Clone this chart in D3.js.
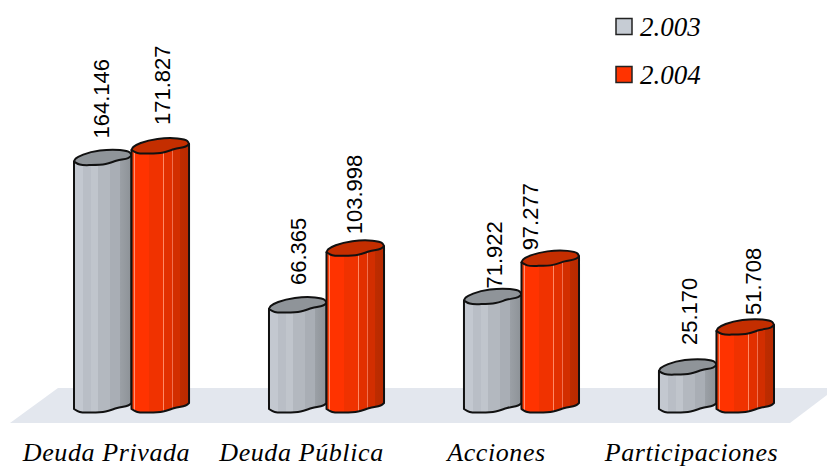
<!DOCTYPE html>
<html>
<head>
<meta charset="utf-8">
<script src="https://cdn.jsdelivr.net/npm/d3@7"></script>
<style>
html, body { margin: 0; padding: 0; background: #fff; }
svg { display: block; }
</style>
</head>
<body>
<div id="chart"></div>
<script>
// Data
var categories = ['Deuda Privada', 'Deuda Pública', 'Acciones', 'Participaciones'];
var years = ['2.003', '2.004'];
var values2003 = [164146, 66365, 71922, 25170];
var values2004 = [171827, 103998, 97277, 51708];
var valueLabels2003 = ['164.146', '66.365', '71.922', '25.170'];
var valueLabels2004 = ['171.827', '103.998', '97.277', '51.708'];

// Hand placed value labels, the original has them nudged around
var labelGap = [[23, 24, 12, 26], [25, 18, 12, 16]];
var labelShift = [[-2, 0, 1, 1], [2, -1, -20, 8]];

var svgWidth = 827, svgHeight = 466;

var svg = d3.select('#chart').append('svg')
    .attr('width', svgWidth)
    .attr('height', svgHeight);

var x = d3.scaleBand()
    .domain(categories)
    .range([74, 774])
    .paddingInner(0.41)
    .paddingOuter(0)
    .align(0);

var xInner = d3.scaleBand()
    .domain(years)
    .range([0, x.bandwidth()]);

var y = d3.scaleLinear()
    .domain([0, 171827])
    .range([409, 150]);

// Stripes on the cylinders (offset, colour)
var grayStops = [[0, '#c3c8d0'], [.16, '#c3c8d0'], [.16, '#b9bec6'], [.3, '#b9bec6'], [.3, '#c0c5cc'], [.42, '#c0c5cc'],
    [.42, '#b3b8bf'], [.62, '#b3b8bf'], [.62, '#a9aeb5'], [.8, '#a9aeb5'], [.8, '#9ba0a6'], [1, '#8d9297']];
var redStops = [[0, '#ff3f0a'], [.04, '#ff3f0a'], [.04, '#ff9070'], [.055, '#ff9070'], [.055, '#ff3300'], [.3, '#ff3300'],
    [.3, '#f03200'], [.55, '#f03200'], [.55, '#ff8a66'], [.565, '#ff8a66'], [.565, '#e23000'], [.7, '#e23000'],
    [.7, '#f07050'], [.715, '#f07050'], [.715, '#d22e00'], [.84, '#d22e00'], [.84, '#e06a48'], [.85, '#e06a48'], [.85, '#bd2c00'], [1, '#b82a00']];
var topColors = ['#8f9499', '#c42e00'];
var swatchColors = ['#c6ccd4', '#ff3300'];

var defs = svg.append('defs');
[grayStops, redStops].forEach(function(stops, i) {
    var grad = defs.append('linearGradient').attr('id', 'body' + i);
    stops.forEach(function(s) {
        grad.append('stop').attr('offset', s[0]).attr('stop-color', s[1]);
    });
});

// Floor
svg.append('path')
    .attr('d', 'M58,388 L827,388 L827,395 L790,423 L10,423 Z')
    .attr('fill', '#e3e7ee');

// Wobbly outline of the cylinder cap, u = share of bar width, v = px from left corner
var capBack = [[0, 0], [.03, -3], [.16, -7], [.45, -11], [.8, -11.5], [.97, -9], [1, -6]];
var capFront = [[1, -6], [.94, -3.5], [.75, -1], [.55, 2.5], [.3, 3.5], [.1, 3], [0, 0]];

var line = d3.line().curve(d3.curveCatmullRom.alpha(0.5));

function pts(list, x0, w, y0) {
    return list.map(function(p) { return [x0 + p[0] * w, y0 + p[1]]; });
}

function drawBar(xPos, w, value, idx, i, label) {
    var top = y(value), base = y(0);
    var g = svg.append('g');

    var front = line(pts(capFront, xPos, w, top));
    var bottom = pts(capFront, xPos, w, base);
    // body
    g.append('path')
        .attr('d', 'M' + xPos + ',' + top +
            ' L' + xPos + ',' + base +
            ' ' + line(bottom.slice().reverse()).replace('M', 'L') +
            ' L' + (xPos + w) + ',' + (top - 6) + ' Z')
        .attr('fill', 'url(#body' + idx + ')')
        .attr('stroke', '#111')
        .attr('stroke-width', 2)
        .attr('stroke-linejoin', 'round');
    // cap
    g.append('path')
        .attr('d', line(pts(capBack, xPos, w, top)) + ' ' + front.replace('M', 'L') + ' Z')
        .attr('fill', topColors[idx])
        .attr('stroke', '#111')
        .attr('stroke-width', 2)
        .attr('stroke-linejoin', 'round');
    // value label
    var lx = xPos + w / 2 + 8 + labelShift[idx][i], ly = top - labelGap[idx][i];
    svg.append('text')
        .attr('transform', 'translate(' + lx + ',' + ly + ') rotate(-90)')
        .attr('font-family', '"Liberation Sans", Arial, sans-serif')
        .attr('font-size', 22)
        .attr('fill', '#000')
        .text(label);
}

categories.forEach(function(c, i) {
    // gray first, red overlaps on top of it
    var gx = x(c);
    drawBar(gx + xInner(years[0]), xInner.bandwidth(), values2003[i], 0, i, valueLabels2003[i]);
    drawBar(gx + xInner(years[1]), xInner.bandwidth(), values2004[i], 1, i, valueLabels2004[i]);
    svg.append('text')
        .attr('x', gx + x.bandwidth() / 2 - 25)
        .attr('y', 461)
        .attr('text-anchor', 'middle')
        .attr('font-family', '"Liberation Serif", "Times New Roman", serif')
        .attr('font-style', 'italic')
        .attr('font-size', 26)
        .attr('letter-spacing', 0.6)
        .text(c);
});

// Legend
var legend = svg.selectAll('.legend')
    .data(years)
    .enter().append('g')
    .attr('class', 'legend')
    .attr('transform', function(d, i) { return 'translate(616,' + (18.5 + i * 48) + ')'; });

legend.append('rect')
    .attr('width', 16)
    .attr('height', 16)
    .attr('fill', function(d, i) { return swatchColors[i]; })
    .attr('stroke', '#222')
    .attr('stroke-width', 1.5);

legend.append('text')
    .attr('x', 24)
    .attr('y', 17)
    .attr('font-family', '"Liberation Serif", "Times New Roman", serif')
    .attr('font-style', 'italic')
    .attr('font-size', 27)
    .text(function(d) { return d; });
</script>
</body>
</html>
